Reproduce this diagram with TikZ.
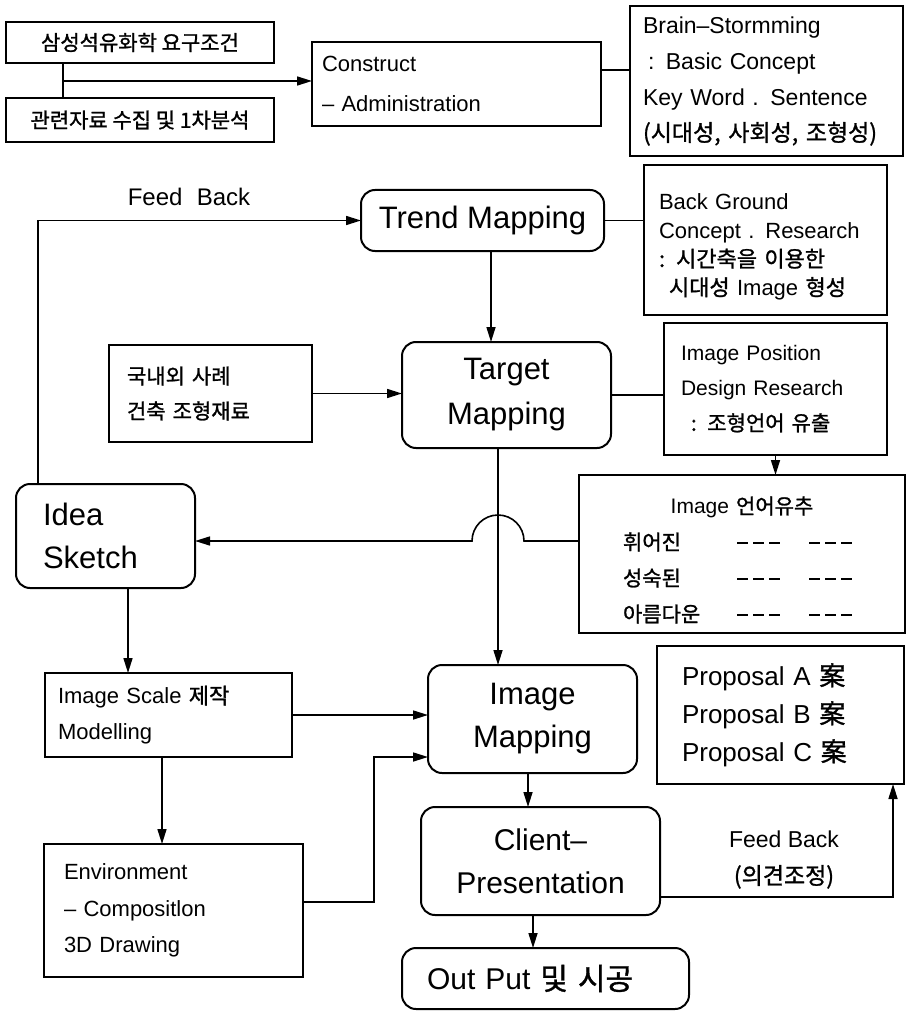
\documentclass[tikz,border=0pt]{standalone}
\usepackage{fontspec}
\setmainfont{Liberation Sans}
\newfontfamily\kr{Noto Sans CJK KR}[FakeBold=1.2]
\usetikzlibrary{arrows.meta}
% three short heavy dashes used as blank fields
\newcommand\dashrun{\rule[6pt]{11pt}{2.2pt}\kern5pt\rule[6pt]{11pt}{2.2pt}\kern5pt\rule[6pt]{11pt}{2.2pt}}
\begin{document}
\begin{tikzpicture}[x=1pt,y=-1pt,
  sz/.style 2 args={font=\fontsize{#1pt}{#2pt}\selectfont},
  box/.style={draw, line width=1.8pt, inner ysep=0pt, outer sep=0pt},
  rbox/.style={box, line width=2pt, rounded corners=14pt},
  inbox/.style={inner sep=0pt, align=left},
  link/.style={line width=1.6pt},
  arrow/.style={link, -{Triangle[length=15pt,width=9pt]}}]
\useasboundingbox (0,0) rectangle (906,1011);

% ---------- top row ----------
\node[box, minimum width=268pt, minimum height=41pt, sz={21}{26}] (req) at (140,42.5) {\kr 삼성석유화학 요구조건};
\node[box, minimum width=268pt, minimum height=44pt, sz={21}{26}] (data) at (140,120) {\kr 관련자료 수집 및 1차분석};
\node[box, minimum width=289pt, minimum height=84pt, inner xsep=10pt, text width=269pt, align=left, sz={22}{40}] (cons) at (456.5,84) {Construct\\– Administration};
\node[box, minimum width=273pt, minimum height=150pt, inner xsep=13pt, text width=247pt, align=left, sz={23}{36}] (brain) at (766.5,81)
  {Brain–Stormming\\\hspace*{5pt}: Basic Concept\\Key Word . Sentence\\{\kr (시대성, 사회성, 조형성)}};

% ---------- trend / target ----------
\node[rbox, minimum width=243pt, minimum height=61pt, sz={31}{36}] (trend) at (482.5,220.5) {Trend Mapping};
\node[box, minimum width=243pt, minimum height=150pt] (bg) at (765.5,240) {};
\node[inbox, text width=213pt, sz={22}{28.5}] (bgtext) at ([yshift=-7pt]bg.center)
  {Back Ground\\Concept . Research\\{\kr : 시간축을 이용한}\\\hspace*{10pt}{\kr 시대성} Image {\kr 형성}};
\node[box, minimum width=203pt, minimum height=97pt, inner xsep=18pt, text width=167pt, align=left, sz={21}{35}] (dom) at (210.5,393.5)
  {{\kr 국내외 사례}\\{\kr 건축 조형재료}};
\node[rbox, minimum width=209pt, minimum height=106pt, align=center, sz={31}{45}] (target) at (506.5,395) {Target\\Mapping};
\node[box, minimum width=223pt, minimum height=132pt, inner xsep=17pt, text width=189pt, align=left, sz={21}{35}] (ip) at (775.5,389)
  {Image Position\\Design Research\\\hspace*{10pt}{\kr : 조형언어 유출}};
\node[box, minimum width=326pt, minimum height=158pt] (lang) at (742,554) {};
\node[inbox, text width=238pt, sz={21}{36}] (langtext) at ([yshift=-6pt]lang.center)
  {\makebox[238pt]{Image {\kr 언어유추}}\\
   \makebox[114pt][l]{\kr 휘어진}\makebox[72pt][l]{\dashrun}\dashrun\\
   \makebox[114pt][l]{\kr 성숙된}\makebox[72pt][l]{\dashrun}\dashrun\\
   \makebox[114pt][l]{\kr 아름다운}\makebox[72pt][l]{\dashrun}\dashrun};

% ---------- left column ----------
\node[rbox, minimum width=179pt, minimum height=104pt, inner xsep=27pt, text width=125pt, align=left, sz={31}{43}] (idea) at (105.5,536) {Idea\\Sketch};
\node[box, minimum width=247pt, minimum height=84pt, inner xsep=13pt, text width=221pt, align=left, sz={22}{36}] (scale) at (168.5,715)
  {Image Scale {\kr 제작}\\Modelling};
\node[box, minimum width=259pt, minimum height=133pt, inner xsep=20pt, text width=219pt, align=left, sz={22}{36.5}] (env) at (173.5,910.5)
  {Environment\\– Compositlon\\3D Drawing};

% ---------- lower centre / right ----------
\node[rbox, minimum width=209pt, minimum height=108pt, align=center, sz={31}{43}] (imap) at (532.5,719) {Image\\Mapping};
\node[box, minimum width=247pt, minimum height=138pt, inner xsep=25pt, text width=197pt, align=left, sz={26}{38}] (prop) at (780.5,715)
  {Proposal A {\kr 案}\\Proposal B {\kr 案}\\Proposal C {\kr 案}};
\node[rbox, minimum width=239pt, minimum height=108pt, align=center, sz={30}{43}] (client) at (540.5,861) {Client–\\Presentation};
\node[rbox, minimum width=287pt, minimum height=61pt, inner xsep=25pt, text width=237pt, align=left, sz={30}{36}] (out) at (545.5,978.5) {Out Put {\kr 및 시공}};

% ---------- labels ----------
\node[sz={24}{28}] (fb1) at (189,197) {Feed\hspace{0.6em}Back};
\node[sz={23}{37}, align=center] (fb2) at (784,859.5) {Feed Back\\{\kr (의견조정)}};

% ---------- connectors ----------
\coordinate (jx) at (63,81);
\draw[link] (req.south -| jx) -- (data.north -| jx);
\draw[arrow] (jx) -- (jx -| cons.west);
\coordinate (cb) at (601,70);
\draw[link] (cb -| cons.east) -- (cb -| brain.west);

\draw[link] (trend.east) -- (trend.east -| bg.west);
\coordinate (tx) at (491,0);
\draw[arrow] (trend.south -| tx) -- (target.north -| tx);
\draw[arrow] (dom.east) -- (dom.east -| target.west);
\draw[link] (target.east) -- (target.east -| ip.west);
\draw[arrow] (ip.south) -- (ip.south |- lang.north);

\coordinate (vx) at (498,0);
\draw[arrow] (target.south -| vx) -- (imap.north -| vx);
\coordinate (hy) at (0,541);
\coordinate (hop) at (524,541);
\draw[arrow] (lang.west |- hy) -- (hop) arc[start angle=0, end angle=180, radius=26pt] -- (idea.east |- hy);

\coordinate (fx) at (38,0);
\draw[arrow] (idea.north -| fx) |- (trend.west);
\coordinate (ix) at (128,0);
\draw[arrow] (idea.south -| ix) -- (scale.north -| ix);
\coordinate (sx) at (162,0);
\draw[arrow] (scale.south -| sx) -- (env.north -| sx);
\draw[arrow] (scale.east) -- (scale.east -| imap.west);
\coordinate (e1) at (374,902);
\coordinate (e2) at (374,757);
\draw[arrow] (env.east |- e1) -- (e1) -- (e2) -- (e2 -| imap.west);

\coordinate (mx) at (528,0);
\draw[arrow] (imap.south -| mx) -- (client.north -| mx);
\coordinate (ox) at (533,0);
\draw[arrow] (client.south -| ox) -- (out.north -| ox);
\coordinate (pf) at (893,897);
\draw[arrow] (client.east |- pf) -- (pf) -- (pf |- prop.south);
\end{tikzpicture}
\end{document}
